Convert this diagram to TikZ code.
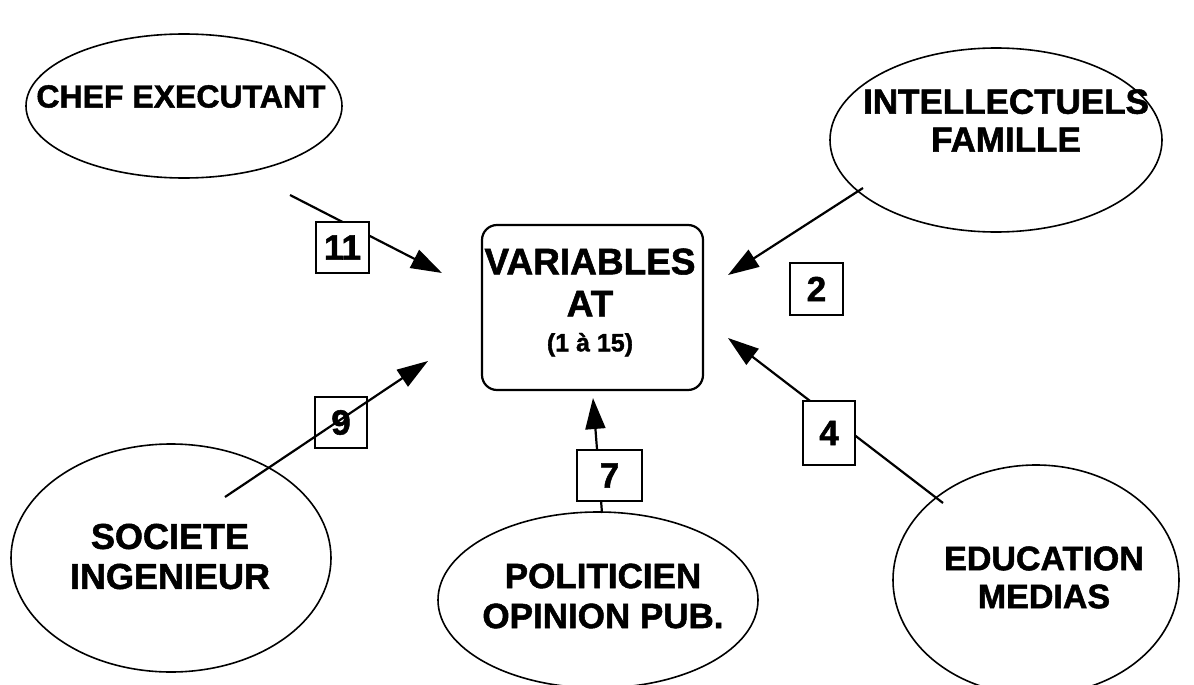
\documentclass[tikz,border=0pt]{standalone}
\usepackage{fontspec}
\setmainfont{Liberation Sans}[BoldFeatures={FakeBold=1.5}]
\usetikzlibrary{arrows.meta,shapes.geometric}
\begin{document}
\begin{tikzpicture}[x=1pt,y=-1pt,
  oval/.style={draw, ellipse, line width=1.6pt, inner sep=0pt},
  lbl/.style={align=center, inner sep=0pt, font=\bfseries\fontsize{35}{40}\selectfont},
  numbox/.style={draw, line width=2pt, fill=white, inner sep=0pt,
                 font=\bfseries\fontsize{35}{40}\selectfont},
  flow/.style={line width=2.2pt, -{Triangle[length=31pt,width=20pt]}}]

\fill[white] (0,0) rectangle (1194,685);
\clip (0,0) rectangle (1194,685);

% surrounding actors
\node[oval, minimum width=316pt, minimum height=144pt] (chef)  at (184,106) {};
\node[oval, minimum width=332pt, minimum height=184pt] (intel) at (996,140) {};
\node[oval, minimum width=320pt, minimum height=228pt] (soc)   at (171,558) {};
\node[oval, minimum width=320pt, minimum height=176pt] (pol)   at (598,600) {};
\node[oval, minimum width=286pt, minimum height=230pt] (edu)   at (1036,580) {};

% central box
\node[draw, rounded corners=15pt, line width=2.2pt, minimum width=221pt,
      minimum height=165pt] (vars) at (592.5,307.5) {};

% arrow end points
\coordinate (s11) at (290,195);  \coordinate (t11) at (442,273);
\coordinate (s2)  at (863,188);  \coordinate (t2)  at (728,275);
\coordinate (s9)  at (225,497);  \coordinate (t9)  at (428,361);
\coordinate (s7)  at (602,513);  \coordinate (t7)  at (593,398);
\coordinate (s4)  at (943,503);  \coordinate (t4)  at (728,338);

\draw[flow] (s11) -- (t11);
\draw[flow] (s2)  -- (t2);
\draw[flow] (s9)  -- (t9);
\draw[flow] (s7)  -- (t7);
\draw[flow] (s4)  -- (t4);

% weights
\node[numbox, minimum width=53pt, minimum height=51pt] (n11) at (342.5,247.5) {11};
\node[numbox, minimum width=53pt, minimum height=52pt] (n2)  at (816.5,289) {2};
\node[numbox, fill=none, minimum width=52pt, minimum height=51pt] (n9) at (341,422.5) {9};
\node[numbox, minimum width=65pt, minimum height=51pt] (n7)  at (609.5,475.5) {7};
\node[numbox, minimum width=52pt, minimum height=64pt] (n4)  at (829,433) {4};

% labels
\node[lbl, font=\bfseries\fontsize{32}{38}\selectfont] (chefT) at (181,96.5) {CHEF EXECUTANT};
\node[lbl, font=\bfseries\fontsize{35}{38}\selectfont] (intelT) at (1006,120.5) {INTELLECTUELS\\FAMILLE};
\node[lbl, font=\bfseries\fontsize{36}{40}\selectfont] (socT) at (170,556.5) {SOCIETE\\INGENIEUR};
\node[lbl, font=\bfseries\fontsize{35}{40}\selectfont] (polT) at (603,596) {POLITICIEN\\OPINION PUB.};
\node[lbl, font=\bfseries\fontsize{34}{38}\selectfont] (eduT) at (1044,577.5) {EDUCATION\\MEDIAS};
\node[lbl, font=\bfseries\fontsize{37}{42}\selectfont] (varsT) at (590,302.5)
  {VARIABLES\\AT\\[-7pt]{\fontsize{25}{30}\selectfont (1 à 15)}};
\end{tikzpicture}
\end{document}
